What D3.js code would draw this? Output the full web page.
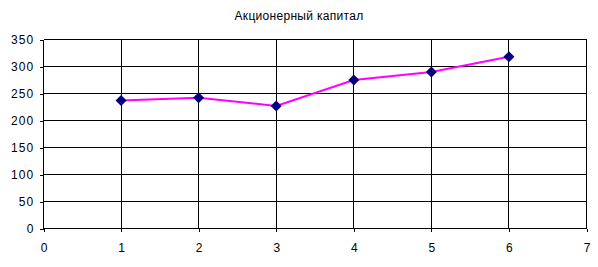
<!DOCTYPE html>
<html>
<head>
<meta charset="utf-8">
<script src="https://cdn.jsdelivr.net/npm/d3@7"></script>
<style>
  html, body { margin: 0; padding: 0; background: #fff; }
  svg { display: block; }
  text { font-family: "Liberation Sans", Arial, sans-serif; fill: #000; }
</style>
</head>
<body>
<svg id="chart" width="598" height="267"></svg>
<script>
const title = "Акционерный капитал";
const xValues = [1, 2, 3, 4, 5, 6];
const yValues = [237, 242, 227, 275, 290, 318];
const xTicks = [0, 1, 2, 3, 4, 5, 6, 7];
const yTicks = [0, 50, 100, 150, 200, 250, 300, 350];

const svg = d3.select("#chart");
const x = d3.scaleLinear().domain([0, 7]).range([43.5, 586.5]);
const y = d3.scaleLinear().domain([0, 350]).range([228.5, 39.5]);

// title
svg.append("text")
  .attr("x", 299).attr("y", 20)
  .attr("text-anchor", "middle")
  .style("font-size", "12px")
  .style("letter-spacing", "0.3px")
  .text(title);

// grid
const g = svg.append("g").attr("shape-rendering", "crispEdges");
g.selectAll("line.h").data(yTicks).enter().append("line")
  .attr("x1", x(0)).attr("x2", x(7))
  .attr("y1", d => y(d)).attr("y2", d => y(d))
  .attr("stroke", "#000").attr("stroke-width", 1);
g.selectAll("line.v").data(xTicks).enter().append("line")
  .attr("x1", d => x(d)).attr("x2", d => x(d))
  .attr("y1", y(0)).attr("y2", y(350))
  .attr("stroke", "#000").attr("stroke-width", 1);

// axes
const fmt = d3.format("d");
const yAxis = d3.axisLeft(y).tickValues(yTicks).tickFormat(fmt).tickSize(4).tickPadding(6);
const xAxis = d3.axisBottom(x).tickValues(xTicks).tickFormat(fmt).tickSize(3).tickPadding(14);
const ya = svg.append("g").attr("transform", `translate(${x(0)},0)`).call(yAxis);
const xa = svg.append("g").attr("transform", `translate(0,${y(0)})`).call(xAxis);
[ya, xa].forEach(a => {
  a.select(".domain").remove();
  a.selectAll("line").attr("stroke", "#000").attr("shape-rendering", "crispEdges");
  a.selectAll("text").attr("font-family", null)
    .style("font-size", "12px").style("letter-spacing", "1.2px").attr("fill", "#000");
});
ya.selectAll("text").attr("dy", "0.36em").attr("dx", "1px");
xa.selectAll("text").attr("dy", "0.55em").attr("dx", "0.6px");

// line
const line = d3.line().x((d, i) => x(xValues[i])).y(d => y(d));
svg.append("path").datum(yValues)
  .attr("d", line)
  .attr("fill", "none")
  .attr("stroke", "#ff00ff")
  .attr("stroke-width", 2);

// markers
const r = 5.5;
svg.selectAll("path.m").data(yValues).enter().append("path")
  .attr("d", (d, i) => {
    const cx = x(xValues[i]), cy = y(d);
    return `M${cx},${cy - r}L${cx + r},${cy}L${cx},${cy + r}L${cx - r},${cy}Z`;
  })
  .attr("fill", "#000080");
</script>
</body>
</html>
